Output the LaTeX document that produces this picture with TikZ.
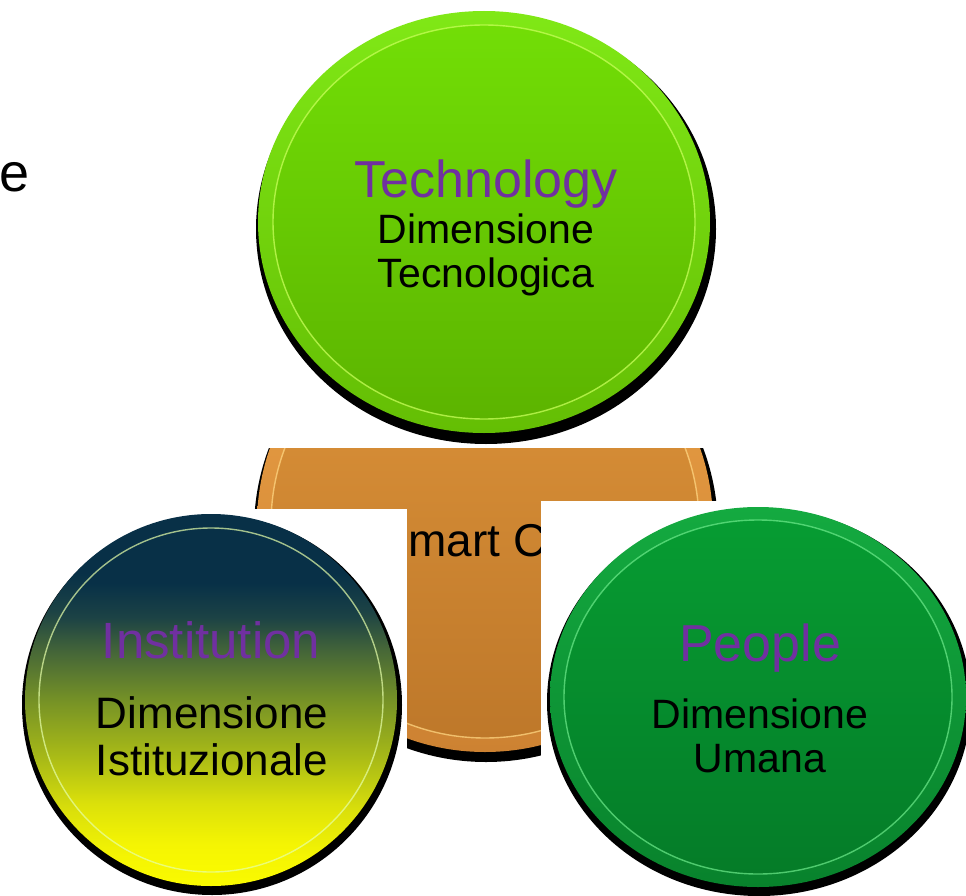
\documentclass[tikz,border=0pt]{standalone}
\usepackage{fontspec}
\setmainfont{Liberation Sans}
\definecolor{purp}{RGB}{112,48,160}
\definecolor{grTopA}{RGB}{128,232,22}
\definecolor{grBotA}{RGB}{100,190,4}
\definecolor{grTop}{RGB}{114,222,6}
\definecolor{grBot}{RGB}{92,180,0}
\definecolor{grHi}{RGB}{200,255,90}
\definecolor{orTopA}{RGB}{234,160,70}
\definecolor{orBotA}{RGB}{205,130,50}
\definecolor{orTop}{RGB}{222,148,58}
\definecolor{orBot}{RGB}{190,120,42}
\definecolor{orHi}{RGB}{255,214,130}
\definecolor{inHi}{RGB}{230,255,170}
\definecolor{peTopA}{RGB}{20,170,64}
\definecolor{peBotA}{RGB}{8,130,44}
\definecolor{peTop}{RGB}{6,156,50}
\definecolor{peBot}{RGB}{5,124,40}
\definecolor{peHi}{RGB}{110,235,140}
\pgfdeclareverticalshading{instshade}{100bp}{%
  rgb(0bp)=(0.98,0.98,0);
  rgb(25bp)=(0.98,0.98,0);
  rgb(29bp)=(0.96,0.96,0.01);
  rgb(35bp)=(0.86,0.88,0.04);
  rgb(42bp)=(0.66,0.73,0.09);
  rgb(50bp)=(0.46,0.57,0.15);
  rgb(57bp)=(0.27,0.40,0.22);
  rgb(62bp)=(0.11,0.26,0.27);
  rgb(67bp)=(0.03,0.19,0.28);
  rgb(75bp)=(0.03,0.19,0.28);
  rgb(100bp)=(0.03,0.19,0.28)}
\tikzset{
  lbl/.style={anchor=base, inner sep=0pt},
  ttl/.style={lbl, text=purp, font=\fontsize{52}{60}\selectfont},
  sub/.style={lbl, text=black, font=\fontsize{41}{48}\selectfont},
}
\begin{document}
\begin{tikzpicture}[x=1pt,y=1pt]
\useasboundingbox (0,0) rectangle (966,-896);
\fill[white] (0,0) rectangle (966,-896);

% ---------- orange (Smart City) ----------
\fill[black] (486,-530) circle[radius=232];
\shade[top color=orTopA, bottom color=orBotA] (485,-524) circle[radius=228];
\shade[top color=orTop, bottom color=orBot] (485,-524) circle[radius=214];
\draw[orHi, line width=1.4, opacity=.75] (485,-524) circle[radius=214];
\node[lbl, font=\fontsize{46}{54}\selectfont, text=black] (smart) at (485,-556) {Smart City};

% ---------- Technology ----------
\fill[white] (230,0) rectangle (740,-448);
\fill[black] (486,-229) ellipse[x radius=230, y radius=215];
\shade[top color=grTopA, bottom color=grBotA] (484,-222) ellipse[x radius=226, y radius=211];
\shade[top color=grTop, bottom color=grBot] (484,-222) ellipse[x radius=211, y radius=197];
\draw[grHi, line width=1.4, opacity=.75] (484,-222) ellipse[x radius=211, y radius=197];
\node[ttl] (tech1) at (486,-197) {Technology};
\node[sub] (tech2) at (486,-243) {Dimensione};
\node[sub] (tech3) at (486,-287) {Tecnologica};

% ---------- Institution ----------
\fill[white] (10,-509) rectangle (407,-896);
\fill[black] (212,-705) circle[radius=190];
\shade[shading=instshade] (211,-700) circle[radius=186];
\shade[shading=instshade] (211,-700) circle[radius=172];
\draw[inHi, line width=1.4, opacity=.7] (211,-700) circle[radius=172];
\node[ttl, font=\fontsize{51}{60}\selectfont] (inst1) at (211,-658) {Institution};
\node[sub, font=\fontsize{44}{52}\selectfont] (inst2) at (212,-728) {Dimensione};
\node[sub, font=\fontsize{44}{52}\selectfont] (inst3) at (212,-775) {Istituzionale};

% ---------- People ----------
\fill[white] (541,-501) rectangle (966,-896);
\fill[black] (759,-702) ellipse[x radius=212, y radius=194];
\shade[top color=peTopA, bottom color=peBotA] (758,-697) ellipse[x radius=208, y radius=190];
\shade[top color=peTop, bottom color=peBot] (758,-697) ellipse[x radius=194, y radius=177];
\draw[peHi, line width=1.4, opacity=.7] (758,-697) ellipse[x radius=194, y radius=177];
\node[ttl] (peo1) at (760,-661) {People};
\node[sub] (peo2) at (760,-728) {Dimensione};
\node[sub] (peo3) at (760,-772) {Umana};

% ---------- stray letter ----------
\node[lbl, anchor=base east, font=\fontsize{54}{62}\selectfont, text=black] (lefte) at (30,-192) {e};
\end{tikzpicture}
\end{document}
